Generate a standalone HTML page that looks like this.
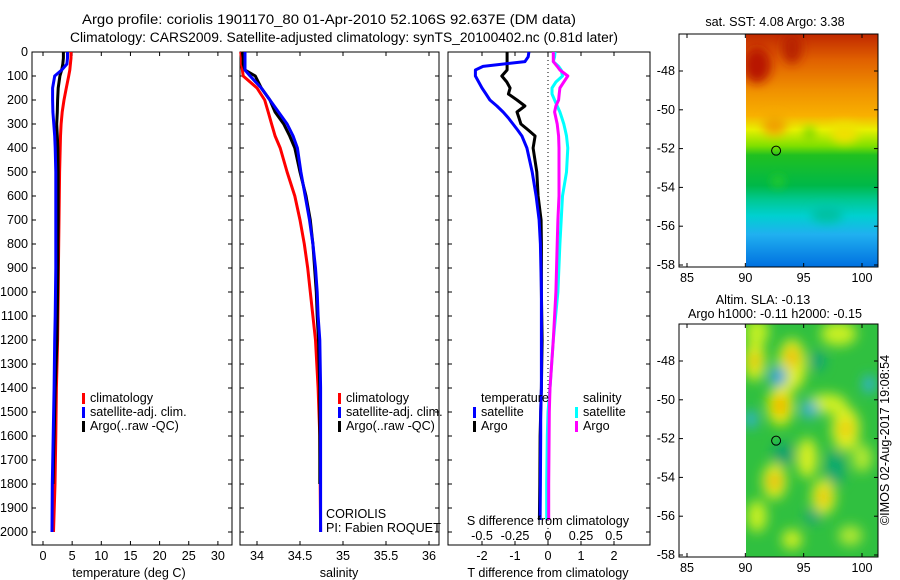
<!DOCTYPE html>
<html><head><meta charset="utf-8"><style>
body{margin:0;background:#fff}
svg{display:block;font-family:"Liberation Sans",sans-serif;font-size:12.6px}
</style></head><body>
<svg id="fig" width="900" height="580" viewBox="0 0 900 580">
<defs>
<clipPath id="clipTop"><rect x="746" y="34" width="132" height="233"/></clipPath>
<clipPath id="clipBot"><rect x="746" y="324" width="132" height="233"/></clipPath>
<linearGradient id="sstGrad" x1="0" y1="34" x2="0" y2="267" gradientUnits="userSpaceOnUse">
<stop offset="0" stop-color="#c02800"/><stop offset="0.11" stop-color="#e06000"/>
<stop offset="0.24" stop-color="#f09000"/><stop offset="0.35" stop-color="#f8b000"/>
<stop offset="0.41" stop-color="#e8f000"/><stop offset="0.48" stop-color="#80e000"/>
<stop offset="0.52" stop-color="#20c020"/><stop offset="0.65" stop-color="#00b848"/>
<stop offset="0.71" stop-color="#00c890"/><stop offset="0.78" stop-color="#00d0d0"/>
<stop offset="0.86" stop-color="#20b0f0"/><stop offset="1" stop-color="#0070e0"/>
</linearGradient>
<filter id="blur" x="-50%" y="-50%" width="200%" height="200%"><feGaussianBlur stdDeviation="5"/></filter>
<filter id="blur2" x="-50%" y="-50%" width="200%" height="200%"><feGaussianBlur stdDeviation="6"/></filter>
</defs>
<g>
<text x="82" y="24" font-size="13.5" textLength="494" lengthAdjust="spacingAndGlyphs">Argo profile: coriolis 1901170_80 01-Apr-2010 52.106S 92.637E (DM data)</text>
<text x="70" y="42" font-size="13.5" textLength="548" lengthAdjust="spacingAndGlyphs">Climatology: CARS2009. Satellite-adjusted climatology: synTS_20100402.nc (0.81d later)</text>
</g>
<g id="plots"></g>
<g id="maps"></g>
<text transform="translate(889,440) rotate(-90)" text-anchor="middle">©IMOS 02-Aug-2017 19:08:54</text>
</svg>
<script>
// ---------- data ----------
const depths = [0,25,50,75,100,150,200,250,300,350,400,500,600,700,800,900,1000,1100,1200,1400,1600,1800,2000];
const tempClim = [4.8,4.8,4.7,4.6,4.4,4.0,3.6,3.3,3.1,3.0,2.95,2.85,2.8,2.75,2.7,2.65,2.6,2.55,2.5,2.3,2.2,2.05,1.8];
const tempSat  = [4.2,4.2,4.1,3.2,2.0,1.65,1.65,1.7,1.85,2.0,2.1,2.2,2.2,2.2,2.2,2.2,2.15,2.1,2.0,1.9,1.75,1.6,1.55];
const tempArgo = [3.5,3.5,3.4,3.2,2.9,2.6,2.5,2.45,2.35,2.45,2.55,2.6,2.6,2.6,2.55,2.55,2.5,2.45,2.4,2.1,1.9,1.7,1.5];
const salClim = [33.81,33.82,33.82,33.83,33.84,34.0,34.09,34.13,34.17,34.21,34.27,34.35,34.44,34.5,34.55,34.59,34.62,34.65,34.68,34.71,34.73,34.735,34.74];
const salSat  = [33.86,33.86,33.86,33.86,33.92,34.05,34.15,34.25,34.35,34.42,34.47,34.51,34.56,34.61,34.65,34.68,34.7,34.71,34.73,34.74,34.74,34.74,34.74];
const salArgo = [33.83,33.84,33.84,33.86,33.98,34.05,34.15,34.21,34.31,34.38,34.44,34.5,34.57,34.62,34.65,34.67,34.69,34.7,34.715,34.73,34.73,34.73,34.73];
const diffDepths = [0,20,40,60,75,100,125,150,175,200,225,250,275,300,325,350,400,500,600,700,800,1000,1200,1400,1500,1600,1800,1950];
const dTSat  = [-0.58,-0.6,-0.7,-1.97,-2.2,-2.2,-2.1,-2.0,-1.88,-1.76,-1.55,-1.36,-1.2,-1.06,-0.92,-0.79,-0.64,-0.48,-0.36,-0.27,-0.23,-0.2,-0.2,-0.2,-0.22,-0.22,-0.23,-0.24];
const dTArgo = [-1.24,-1.24,-1.24,-1.24,-1.24,-1.4,-1.25,-1.15,-1.2,-0.94,-0.7,-0.94,-0.88,-0.82,-0.6,-0.39,-0.45,-0.34,-0.3,-0.21,-0.2,-0.2,-0.18,-0.2,-0.22,-0.24,-0.25,-0.26];
const dSSat  = [0.053,0.05,0.04,0.08,0.1,0.11,0.06,0.03,0.03,0.05,0.07,0.09,0.105,0.12,0.13,0.14,0.15,0.14,0.11,0.1,0.09,0.075,0.04,0.015,0.0,-0.005,-0.01,-0.01];
const dSArgo = [0.04,0.04,0.04,0.07,0.09,0.15,0.12,0.09,0.085,0.08,0.06,0.05,0.06,0.07,0.075,0.08,0.083,0.083,0.083,0.075,0.07,0.06,0.04,0.015,0.01,0.008,0.005,0.005];
const depthTicks = [0,100,200,300,400,500,600,700,800,900,1000,1100,1200,1300,1400,1500,1600,1700,1800,1900,2000];
const tempTicks = [0,5,10,15,20,25,30];
const salTicks = [34,34.5,35,35.5,36];
const tdTicks = [-2,-1,0,1,2];
const tdTickLabels = ["-2","-1","0","1","2"];
const sdTickLabels = ["-0.5","-0.25","0","0.25","0.5"];
const lonTicks = [85,90,95,100];
const latTicks = [-48,-50,-52,-54,-56,-58];

const NS='http://www.w3.org/2000/svg';
function mk(parent,tag,attrs,text){const e=document.createElementNS(NS,tag);for(const k in attrs)e.setAttribute(k,attrs[k]);if(text!==undefined)e.textContent=text;parent.appendChild(e);return e;}
const plots=document.getElementById('plots');
const yDepth = d => 52 + d*0.24;
const xTemp = t => 43 + t*5.83;
const xSal = s => 257 + (s-34)*86;
const xTd = t => 548 + t*33;

function frame(g,x0,x1,y0,y1){
  mk(g,'rect',{x:x0,y:y0,width:x1-x0,height:y1-y0,fill:'none',stroke:'#000','stroke-width':1});
}
function depthAxis(g,x0,x1,labels){
  depthTicks.forEach(d=>{const y=yDepth(d);
    mk(g,'line',{x1:x0,y1:y,x2:x0+4,y2:y,stroke:'#000'});
    mk(g,'line',{x1:x1-4,y1:y,x2:x1,y2:y,stroke:'#000'});
    if(labels){const t=mk(g,'text',{x:x0-4,y:y+4,'text-anchor':'end'},String(d));
      
      }
  });
}
function xTicks(g,vals,fx,labels,y0,y1,ly){
  vals.forEach((v,i)=>{const x=fx(v);
    mk(g,'line',{x1:x,y1:y0,x2:x,y2:y0+4,stroke:'#000'});
    mk(g,'line',{x1:x,y1:y1-4,x2:x,y2:y1,stroke:'#000'});
    if(labels){const t=mk(g,'text',{x:x,y:ly,'text-anchor':'middle'},labels[i]);
      
      }
  });
}
function line(g,xs,ds,fx,color,name,w){
  const pts=xs.map((v,i)=>fx(v).toFixed(1)+','+yDepth(ds[i]).toFixed(1)).join(' ');
  const p=mk(g,'polyline',{points:pts,fill:'none',stroke:color,'stroke-width':w||3,'stroke-linejoin':'round'});
  
  
}
function legend(g,x,y,color,label,name){
  mk(g,'rect',{x:x,y:y-9,width:3,height:11,fill:color});
  const t=mk(g,'text',{x:x+8,y:y},label);
  
  
}

// Panel 1: temperature
const g1=mk(plots,'g',{});


frame(g1,32,232,52,545);
depthAxis(g1,32,232,true);
xTicks(g1,tempTicks,xTemp,tempTicks.map(String),52,545,560);
line(g1,tempClim,depths,xTemp,'#ff0000','temp-climatology-line');
line(g1,tempArgo,depths.slice(0,22),xTemp,'#000','temp-argo-line');
line(g1,tempSat,depths,xTemp,'#0000ff','temp-satellite-line');
mk(g1,'text',{x:129,y:577,'text-anchor':'middle'},'temperature (deg C)');
legend(g1,82,402,'#ff0000','climatology','legend-climatology');
legend(g1,82,416,'#0000ff','satellite-adj. clim.','legend-satellite');
legend(g1,82,430,'#000','Argo(..raw -QC)','legend-argo');

// Panel 2: salinity
const g2=mk(plots,'g',{});


frame(g2,240,439,52,545);
depthAxis(g2,240,439,false);
xTicks(g2,salTicks,xSal,salTicks.map(String),52,545,560);
line(g2,salClim,depths,xSal,'#ff0000','sal-climatology-line');
line(g2,salArgo,depths.slice(0,22),xSal,'#000','sal-argo-line');
line(g2,salSat,depths,xSal,'#0000ff','sal-satellite-line');
mk(g2,'text',{x:339,y:577,'text-anchor':'middle'},'salinity');
legend(g2,338,402,'#ff0000','climatology','legend-climatology');
legend(g2,338,416,'#0000ff','satellite-adj. clim.','legend-satellite');
legend(g2,338,430,'#000','Argo(..raw -QC)','legend-argo');
mk(g2,'text',{x:326,y:518},'CORIOLIS');
mk(g2,'text',{x:326,y:532},'PI: Fabien ROQUET');

// Panel 3: differences
const g3=mk(plots,'g',{});


frame(g3,448,650,52,545);
depthAxis(g3,448,650,false);
xTicks(g3,tdTicks,xTd,tdTickLabels,52,545,560);
tdTicks.forEach((v,i)=>{const t=mk(g3,'text',{x:xTd(v),y:540,'text-anchor':'middle'},sdTickLabels[i]);
  
  });
mk(g3,'line',{x1:548,y1:52,x2:548,y2:545,stroke:'#000','stroke-dasharray':'1,3'});
const xSd = s => 548 + s*132;
line(g3,dSSat,diffDepths,xSd,'#00ffff','s-diff-satellite-line');
line(g3,dSArgo,diffDepths,xSd,'#ff00ff','s-diff-argo-line');
line(g3,dTArgo,diffDepths,xTd,'#000','t-diff-argo-line');
line(g3,dTSat,diffDepths,xTd,'#0000ff','t-diff-satellite-line');
mk(g3,'text',{x:481,y:402},'temperature');
legend(g3,473,416,'#0000ff','satellite','legend-t-satellite');
legend(g3,473,430,'#000','Argo','legend-t-argo');
mk(g3,'text',{x:583,y:402},'salinity');
legend(g3,575,416,'#00ffff','satellite','legend-s-satellite');
legend(g3,575,430,'#ff00ff','Argo','legend-s-argo');
mk(g3,'text',{x:548,y:525,'text-anchor':'middle'},'S difference from climatology');
mk(g3,'text',{x:548,y:577,'text-anchor':'middle'},'T difference from climatology');

// ---------- maps ----------
const maps=document.getElementById('maps');
const xLon = l => 687 + (l-85)*11.667;
function mapFrame(g,y0,y1,latY){
  frame(g,679,878,y0,y1);
  lonTicks.forEach(l=>{const x=xLon(l);
    mk(g,'line',{x1:x,y1:y0,x2:x,y2:y0+4,stroke:'#000'});
    mk(g,'line',{x1:x,y1:y1-4,x2:x,y2:y1,stroke:'#000'});
    const t=mk(g,'text',{x:x,y:y1+15,'text-anchor':'middle'},String(l));
    
    });
  latTicks.forEach(la=>{const y=latY(la);
    mk(g,'line',{x1:679,y1:y,x2:683,y2:y,stroke:'#000'});
    mk(g,'line',{x1:874,y1:y,x2:878,y2:y,stroke:'#000'});
    const t=mk(g,'text',{x:675,y:y+4,'text-anchor':'end'},String(la));
    
    });
}
function blob(g,lon,lat,latY,rx,ry,color){
  mk(g,'ellipse',{cx:xLon(lon),cy:latY(lat),rx:rx,ry:ry,fill:color});
}
// SST map
const latTop = la => 71 + (-48-la)*19.4;
const m1=mk(maps,'g',{});


mk(m1,'text',{x:775,y:26,'text-anchor':'middle'},'sat. SST: 4.08 Argo: 3.38');
const c1=mk(m1,'g',{'clip-path':'url(#clipTop)'});
mk(c1,'rect',{x:746,y:34,width:132,height:233,fill:'url(#sstGrad)'});
const b1=mk(c1,'g',{filter:'url(#blur)'});
blob(b1,91,-47.7,latTop,14,18,'#b81800');
blob(b1,94,-46.8,latTop,10,16,'#b82000');
blob(b1,92.5,-50.8,latTop,12,10,'#f0a000');
blob(b1,98.5,-51.2,latTop,14,10,'#f0e000');
blob(b1,95.5,-51.2,latTop,5,6,'#60d000');
blob(b1,92.8,-53.7,latTop,6,5,'#30d020');
blob(b1,97,-55.4,latTop,16,8,'#00c0a0');
mk(m1,'circle',{cx:xLon(92.637),cy:latTop(-52.106),r:4.5,fill:'none',stroke:'#000'});
mapFrame(m1,34,267,latTop);
// SLA map
const latBot = la => 361 + (-48-la)*19.4;
const m2=mk(maps,'g',{});


mk(m2,'text',{x:763,y:304,'text-anchor':'middle'},'Altim. SLA: -0.13');
mk(m2,'text',{x:775,y:318,'text-anchor':'middle'},'Argo h1000: -0.11 h2000: -0.15');
const c2=mk(m2,'g',{'clip-path':'url(#clipBot)'});
mk(c2,'rect',{x:746,y:324,width:132,height:233,fill:'#30c040'});
const b2=mk(c2,'g',{filter:'url(#blur2)'});
[[91,-46.5,12,14,'#c0f020'],[98,-46.6,18,12,'#c8f020'],[90.8,-48,11,20,'#d8f020'],[94,-48.2,14,26,'#e0f020'],
 [93,-50.3,13,20,'#e8f010'],[98.6,-51.5,14,22,'#e0f020'],[97,-50.2,20,10,'#d0f020'],[95.3,-53,10,20,'#d8f020'],
 [92.5,-54.2,12,18,'#e0f020'],[96.7,-55,12,18,'#e0f020'],[91,-56,10,16,'#c8f020'],[94,-57.2,10,10,'#d0f020'],
 [100,-53,10,14,'#b0e830'],[99,-57,12,10,'#b0e830']].forEach(b=>blob(b2,b[0],b[1],latBot,b[2],b[3],b[4]));
[[90.8,-48,5,7,'#f0b000'],[94,-47.8,6,10,'#f0b000'],[93,-50.3,6,10,'#f0a000'],[98.6,-51.5,6,8,'#f0c000'],
 [92.5,-54.2,6,7,'#f0a000'],[96.7,-55,5,8,'#f0b000']].forEach(b=>blob(b2,b[0],b[1],latBot,b[2],b[3],b[4]));
[[92.8,-48.8,9,10,'#30a0e0'],[95.5,-50.5,9,9,'#40b0d0'],[90.5,-51,6,9,'#30b0e0'],[100.6,-49.2,6,9,'#30b0e0'],
 [96.2,-48,7,9,'#10a080'],[93.3,-52.8,11,11,'#10a070'],[97.7,-53.5,10,18,'#10a870'],[95.8,-56,8,7,'#10a080']].forEach(b=>blob(b2,b[0],b[1],latBot,b[2],b[3],b[4]));
mk(m2,'circle',{cx:xLon(92.637),cy:latBot(-52.106),r:4.5,fill:'none',stroke:'#000'});
mapFrame(m2,324,557,latBot);
</script>
</body></html>
